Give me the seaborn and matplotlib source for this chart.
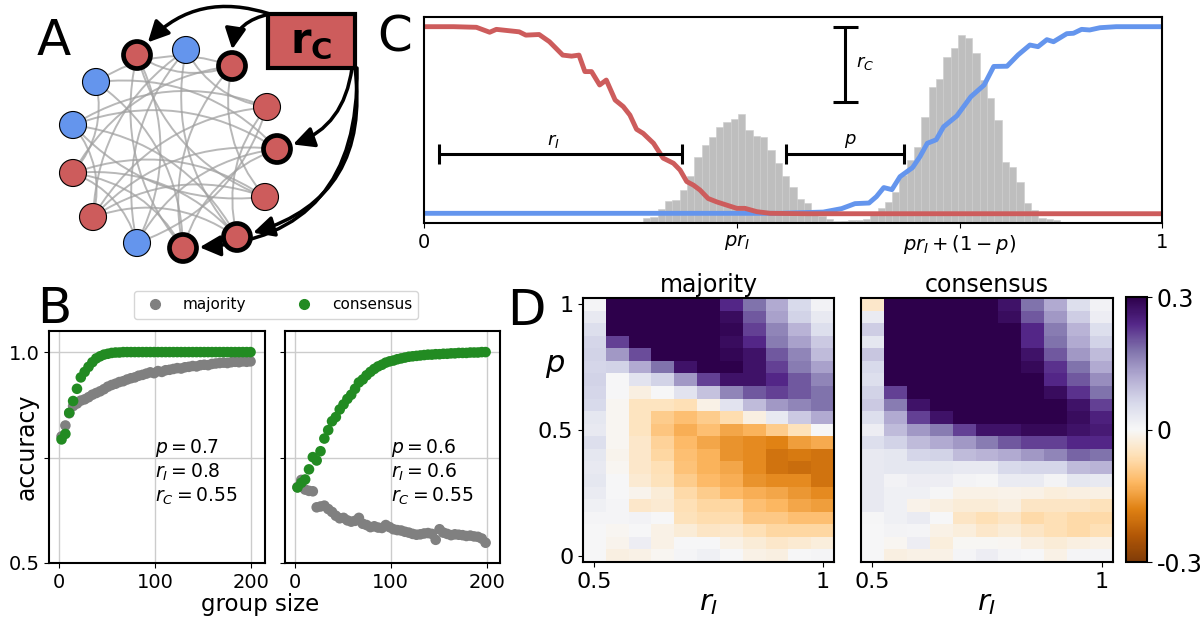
import numpy as np
import pandas as pd
import matplotlib
matplotlib.use("Agg")
import matplotlib.pyplot as plt
import seaborn as sns
from matplotlib.patches import Circle, Rectangle, FancyArrowPatch
from matplotlib.lines import Line2D

RED = "#cd5c5c"
BLUE = "#6495ed"
GREEN = "forestgreen"
GREY = "gray"

# ---------------- A: network sketch (panel pixel coords) ----------------
node_x = [137, 186, 232, 267, 277, 265, 237, 183, 137, 93, 73, 73, 96]
node_y = [55, 50, 66, 107, 149, 197, 237, 248, 243, 217, 173, 125, 82]
node_col = ["r", "b", "r", "r", "r", "r", "r", "r", "b", "r", "r", "b", "b"]
node_informed = [1, 0, 1, 0, 1, 0, 1, 1, 0, 0, 0, 0, 0]
edges = [(0, 2), (0, 5), (0, 7), (1, 3), (1, 6), (1, 9), (2, 10), (2, 7), (2, 12),
         (3, 11), (3, 9), (4, 11), (4, 9), (4, 12), (4, 8), (5, 10),
         (5, 9), (6, 9), (6, 11), (6, 10), (7, 10), (7, 12), (8, 3), (8, 0),
         (9, 11), (10, 12), (11, 5), (1, 8), (2, 5), (4, 7), (8, 10), (3, 6)]
# arrows from the r_C box: start point, target node, curvature
arrow_start = [(270, 14), (270, 14), (352, 68), (355, 68), (357, 68)]
arrow_target = [0, 2, 4, 6, 7]
arrow_rad = [0.35, 0.45, -0.35, -0.45, -0.5]

# ---------------- C: schematic ----------------
red_x = [0.0, 0.04, 0.071, 0.089, 0.098, 0.129, 0.138, 0.156, 0.170, 0.188, 0.200, 0.210,
         0.218, 0.227, 0.238, 0.247, 0.259, 0.270, 0.279, 0.288, 0.297, 0.311, 0.324, 0.338,
         0.347, 0.356, 0.365, 0.374, 0.385, 0.397, 0.410, 0.424, 0.435, 0.451, 0.469, 0.52,
         0.7, 1.0]
red_y = [0.953, 0.953, 0.950, 0.926, 0.940, 0.928, 0.912, 0.915, 0.880, 0.815, 0.810, 0.815,
         0.735, 0.735, 0.670, 0.694, 0.597, 0.565, 0.524, 0.455, 0.435, 0.387, 0.315, 0.290,
         0.257, 0.201, 0.184, 0.160, 0.119, 0.102, 0.087, 0.071, 0.071, 0.055, 0.047, 0.045,
         0.045, 0.045]
blue_x = [0.0, 0.482, 0.541, 0.566, 0.584, 0.603, 0.613, 0.623, 0.634, 0.645, 0.662, 0.672,
          0.682, 0.694, 0.704, 0.722, 0.741, 0.759, 0.772, 0.790, 0.805, 0.821, 0.832, 0.844,
          0.853, 0.871, 0.880, 0.891, 0.902, 0.916, 0.938, 1.0]
blue_y = [0.047, 0.047, 0.053, 0.070, 0.094, 0.097, 0.128, 0.172, 0.162, 0.225, 0.269, 0.322,
          0.387, 0.404, 0.467, 0.520, 0.613, 0.670, 0.760, 0.761, 0.816, 0.864, 0.856, 0.890,
          0.880, 0.919, 0.921, 0.940, 0.937, 0.948, 0.953, 0.953]
bin_w = 0.0099
hist_left_start = 0.287
hist_left = [0.006, 0.023, 0.031, 0.068, 0.107, 0.112, 0.160, 0.228, 0.322, 0.379, 0.419,
             0.468, 0.489, 0.503, 0.528, 0.451, 0.424, 0.419, 0.354, 0.290, 0.228, 0.176,
             0.117, 0.095, 0.060, 0.035, 0.020, 0.012, 0.008]
hist_right_start = 0.565
hist_right = [0.012, 0.015, 0.015, 0.020, 0.039, 0.071, 0.104, 0.152, 0.233, 0.306, 0.370,
              0.516, 0.662, 0.697, 0.807, 0.848, 0.913, 0.896, 0.824, 0.694, 0.605, 0.500,
              0.298, 0.273, 0.201, 0.099, 0.063, 0.023, 0.018, 0.015]
c_ticks = [0, 0.424, 0.726, 1]
c_ticklabels = ["0", "$pr_I$", "$pr_I + (1-p)$", "1"]

# ---------------- B: accuracy vs group size ----------------
group_size = list(range(3, 200, 4))
maj_left = [0.800, 0.826, 0.855, 0.872, 0.878, 0.885, 0.888, 0.893, 0.899, 0.903,
            0.907, 0.912, 0.918, 0.922, 0.925, 0.929, 0.931, 0.935, 0.938, 0.940,
            0.944, 0.946, 0.949, 0.952, 0.950, 0.955, 0.953, 0.957, 0.958, 0.960,
            0.962, 0.961, 0.964, 0.965, 0.967, 0.966, 0.969, 0.970, 0.969, 0.972,
            0.973, 0.974, 0.975, 0.974, 0.976, 0.977, 0.976, 0.978, 0.977, 0.978]
con_left = [0.793, 0.806, 0.856, 0.884, 0.913, 0.940, 0.953, 0.965, 0.976, 0.985,
            0.990, 0.994, 0.996, 0.998, 0.999, 0.999, 1.0, 1.0, 1.0, 1.0,
            1.0, 1.0, 1.0, 1.0, 1.0, 1.0, 1.0, 1.0, 1.0, 1.0,
            1.0, 1.0, 1.0, 1.0, 1.0, 1.0, 1.0, 1.0, 1.0, 1.0,
            1.0, 1.0, 1.0, 1.0, 1.0, 1.0, 1.0, 1.0, 1.0, 1.0]
maj_right = [0.680, 0.697, 0.674, 0.671, 0.670, 0.632, 0.634, 0.636, 0.628, 0.621,
             0.612, 0.606, 0.607, 0.601, 0.598, 0.600, 0.607, 0.593, 0.590, 0.585,
             0.587, 0.584, 0.583, 0.590, 0.585, 0.580, 0.578, 0.577, 0.574, 0.572,
             0.569, 0.567, 0.568, 0.570, 0.571, 0.569, 0.555, 0.580, 0.572, 0.569,
             0.566, 0.568, 0.567, 0.566, 0.564, 0.565, 0.563, 0.562, 0.558, 0.548]
con_right = [0.679, 0.690, 0.698, 0.722, 0.751, 0.743, 0.765, 0.795, 0.815, 0.836,
             0.846, 0.864, 0.876, 0.889, 0.899, 0.913, 0.928, 0.935, 0.945, 0.953,
             0.960, 0.966, 0.970, 0.975, 0.978, 0.980, 0.983, 0.985, 0.987, 0.989,
             0.990, 0.991, 0.992, 0.993, 0.994, 0.994, 0.995, 0.995, 0.996, 0.996,
             0.997, 0.997, 0.998, 0.998, 0.998, 0.999, 0.999, 0.999, 1.0, 1.0]
params_left = "$p = 0.7$\n$r_I = 0.8$\n$r_C = 0.55$"
params_right = "$p = 0.6$\n$r_I = 0.6$\n$r_C = 0.55$"

# ---------------- D: accuracy difference heatmaps ----------------
# rows from p = 1 (top) to p = 0 (bottom), columns r_I = 0.5 ... 1
D = 0.35
diff_majority = [
    [0.005, D, D, D, D, D, 0.24, 0.18, 0.12, 0.06, 0.01],
    [0.03, D, D, D, D, D, 0.28, 0.20, 0.13, 0.07, 0.03],
    [0.05, D, D, D, D, D, 0.29, 0.22, 0.16, 0.11, 0.05],
    [0.065, 0.22, D, D, D, D, 0.28, 0.24, 0.17, 0.13, 0.08],
    [0.07, 0.14, 0.21, D, D, D, 0.29, 0.27, 0.20, 0.16, 0.10],
    [0.065, 0.07, 0.12, 0.18, 0.27, D, D, 0.27, 0.22, 0.17, 0.13],
    [0.07, 0.0, 0.04, 0.07, 0.14, 0.22, 0.27, 0.27, 0.24, 0.20, 0.16],
    [0.065, 0.0, -0.02, 0.0, 0.04, 0.09, 0.16, 0.20, 0.22, 0.20, 0.18],
    [0.06, -0.005, -0.05, -0.05, -0.06, -0.015, 0.04, 0.10, 0.14, 0.16, 0.18],
    [0.035, -0.005, -0.05, -0.09, -0.11, -0.09, -0.065, -0.02, 0.03, 0.08, 0.12],
    [0.03, -0.005, -0.05, -0.10, -0.13, -0.11, -0.14, -0.125, -0.09, -0.055, 0.0],
    [0.05, -0.005, -0.04, -0.08, -0.115, -0.14, -0.16, -0.17, -0.18, -0.15, -0.135],
    [0.035, -0.01, -0.04, -0.075, -0.11, -0.125, -0.16, -0.17, -0.20, -0.19, -0.20],
    [0.03, -0.005, -0.04, -0.06, -0.105, -0.125, -0.14, -0.17, -0.20, -0.21, -0.20],
    [0.035, 0.0, -0.035, -0.055, -0.09, -0.115, -0.13, -0.16, -0.17, -0.17, -0.20],
    [0.025, 0.0, -0.01, -0.03, -0.07, -0.09, -0.115, -0.13, -0.14, -0.155, -0.17],
    [0.015, 0.005, -0.04, -0.035, -0.06, -0.075, -0.075, -0.11, -0.12, -0.14, -0.15],
    [0.005, 0.005, 0.01, 0.0, -0.055, -0.065, -0.065, -0.095, -0.095, -0.11, -0.11],
    [0.0, -0.005, 0.0, -0.015, -0.03, -0.045, -0.04, -0.06, -0.075, -0.075, -0.075],
    [0.0, -0.01, 0.02, -0.015, 0.0, 0.0, -0.015, -0.03, -0.04, -0.035, -0.025],
    [0.0, -0.02, -0.015, -0.005, 0.005, 0.015, 0.0, -0.015, -0.02, 0.0, 0.005],
]
diff_consensus = [
    [-0.04, D, D, D, D, D, 0.27, 0.18, 0.12, 0.05, 0.01],
    [0.025, D, D, D, D, D, 0.28, 0.20, 0.14, 0.075, 0.02],
    [0.075, D, D, D, D, D, D, 0.24, 0.17, 0.11, 0.05],
    [0.035, D, D, D, D, D, D, 0.24, 0.18, 0.12, 0.07],
    [0.085, D, D, D, D, D, D, 0.27, 0.20, 0.14, 0.10],
    [0.06, D, D, D, D, D, D, 0.285, 0.23, 0.18, 0.12],
    [0.05, D, D, D, D, D, D, D, 0.24, 0.20, 0.15],
    [0.07, 0.22, D, D, D, D, D, D, 0.28, 0.23, 0.18],
    [0.08, 0.17, 0.27, D, D, D, D, D, D, 0.27, 0.22],
    [0.05, 0.12, 0.22, 0.27, D, D, D, D, D, 0.28, 0.25],
    [0.02, 0.10, 0.14, 0.17, 0.22, 0.27, 0.27, 0.285, 0.285, 0.27, 0.26],
    [0.05, 0.07, 0.10, 0.12, 0.14, 0.17, 0.20, 0.22, 0.22, 0.24, 0.24],
    [0.03, 0.035, 0.065, 0.07, 0.10, 0.11, 0.12, 0.14, 0.16, 0.19, 0.18],
    [0.03, 0.035, 0.035, 0.035, 0.03, 0.03, 0.06, 0.065, 0.065, 0.10, 0.11],
    [0.03, 0.01, 0.02, 0.02, 0.008, 0.003, 0.025, 0.025, 0.008, 0.035, 0.03],
    [0.03, 0.015, 0.015, 0.003, -0.015, -0.015, -0.012, -0.015, -0.025, -0.02, -0.018],
    [0.03, 0.015, -0.012, -0.02, -0.03, -0.03, -0.02, -0.045, -0.045, -0.045, -0.055],
    [0.003, 0.015, 0.025, 0.0, -0.045, -0.06, -0.045, -0.07, -0.06, -0.07, -0.07],
    [0.0, 0.008, 0.005, -0.015, -0.025, -0.04, -0.03, -0.045, -0.06, -0.07, -0.06],
    [0.0, -0.005, 0.02, -0.025, -0.003, -0.003, -0.005, -0.02, -0.03, -0.02, -0.015],
    [0.0, -0.02, -0.015, -0.015, 0.005, 0.02, 0.005, 0.0, -0.015, 0.005, 0.005],
]

# ---------------- figure ----------------
W, H = 1203, 619
fig = plt.figure(figsize=(W / 100, H / 100), dpi=100)


def px_axes(left, top, right, bottom):
    return fig.add_axes([left / W, 1 - bottom / H, (right - left) / W, (bottom - top) / H])


def frame(ax, lw=1.5):
    for s in ax.spines.values():
        s.set_visible(True)
        s.set_color("black")
        s.set_linewidth(lw)


# ----- A -----
axA = px_axes(0, 0, 370, 270)
axA.set_xlim(0, 370)
axA.set_ylim(270, 0)
axA.axis("off")
for i, j in edges:
    axA.add_patch(FancyArrowPatch((node_x[i], node_y[i]), (node_x[j], node_y[j]),
                                  arrowstyle="-", connectionstyle="arc3,rad=0.25",
                                  color="#a0a0a0", lw=1.4, alpha=0.75, zorder=1))
for x, y, c, inf in zip(node_x, node_y, node_col, node_informed):
    axA.add_patch(Circle((x, y), 13.5, facecolor=RED if c == "r" else BLUE,
                         edgecolor="black", lw=3.4 if inf else 0.8, zorder=3))
axA.add_patch(Rectangle((268, 14), 87, 54, facecolor=RED, edgecolor="black", lw=3, zorder=4))
axA.text(311, 41, r"$\mathbf{r}_\mathbf{C}$", fontsize=30, ha="center", va="center", zorder=5)
for (sx, sy), t, rad in zip(arrow_start, arrow_target, arrow_rad):
    axA.add_patch(FancyArrowPatch((sx, sy), (node_x[t], node_y[t]),
                                  arrowstyle="-|>,head_length=0.7,head_width=0.35",
                                  mutation_scale=18, connectionstyle=f"arc3,rad={rad}",
                                  color="black", lw=2.5, shrinkA=0, shrinkB=12, zorder=2))

# ----- C -----
axC = px_axes(424, 17, 1162, 223)
for start, heights in [(hist_left_start, hist_left), (hist_right_start, hist_right)]:
    n_bins = len(heights)
    hist_df = pd.DataFrame({"x": start + bin_w * (np.arange(n_bins) + 0.5), "w": heights})
    sns.histplot(data=hist_df, x="x", weights="w", binwidth=bin_w,
                 binrange=(start, start + n_bins * bin_w), ax=axC, color="#bebebe",
                 alpha=1, edgecolor="#cdcdcd", linewidth=0.4)
sns.lineplot(x=blue_x, y=blue_y, ax=axC, color=BLUE, lw=3.5)
sns.lineplot(x=red_x, y=red_y, ax=axC, color=RED, lw=3.5)
axC.errorbar((0.020 + 0.350) / 2, 0.333, xerr=(0.350 - 0.020) / 2, color="black",
             lw=2.2, capsize=7, capthick=2.2)
axC.errorbar((0.490 + 0.650) / 2, 0.333, xerr=(0.650 - 0.490) / 2, color="black",
             lw=2.2, capsize=7, capthick=2.2)
axC.errorbar(0.570, (0.950 + 0.586) / 2, yerr=(0.950 - 0.586) / 2, color="black",
             lw=2.2, capsize=9, capthick=2.2)
axC.text(0.175, 0.40, "$r_I$", fontsize=13, ha="center", va="center")
axC.text(0.577, 0.40, "$p$", fontsize=13, ha="center", va="center")
axC.text(0.586, 0.775, "$r_C$", fontsize=13, ha="left", va="center")
axC.set_xlim(0, 1)
axC.set_ylim(0, 1)
axC.set_xticks(c_ticks)
axC.set_xticklabels(c_ticklabels, fontsize=14)
axC.set_yticks([])
axC.set_xlabel("")
axC.set_ylabel("")
frame(axC)

# ----- B -----
axB1 = px_axes(49, 331, 265, 563)
axB2 = px_axes(285, 331, 500, 563)
for ax, maj, con, txt in [(axB1, maj_left, con_left, params_left),
                          (axB2, maj_right, con_right, params_right)]:
    df = pd.DataFrame({"size": group_size * 2, "accuracy": maj + con,
                       "rule": ["majority"] * len(maj) + ["consensus"] * len(con)})
    sns.scatterplot(data=df, x="size", y="accuracy", hue="rule",
                    palette={"majority": GREY, "consensus": GREEN},
                    s=58, linewidth=0, legend=False, ax=ax, zorder=3)
    ax.set_xlim(-10, 214)
    ax.set_ylim(0.5, 1.05)
    ax.set_xticks([0, 100, 200])
    ax.set_yticks([0.5, 0.75, 1.0])
    ax.grid(True, color="#cccccc", lw=1)
    ax.set_axisbelow(True)
    ax.tick_params(labelsize=14)
    ax.set_xlabel("")
    ax.set_ylabel("")
    ax.text(100, 0.716, txt, fontsize=13.5, ha="left", va="center", linespacing=1.15)
    frame(ax)
axB1.set_yticklabels(["0.5", "", "1.0"])
axB2.set_yticklabels([])
fig.text(27 / W, 1 - 447 / H, "accuracy", rotation=90, fontsize=17, ha="center", va="center")
fig.text(260 / W, 1 - 611 / H, "group size", fontsize=16.5, ha="center", va="baseline")
handles = [Line2D([], [], marker="o", ls="", color=GREY, markersize=7),
           Line2D([], [], marker="o", ls="", color=GREEN, markersize=7)]
fig.legend(handles, ["majority", "consensus"], loc="center", bbox_to_anchor=(276 / W, 1 - 305 / H),
           ncol=2, fontsize=11, columnspacing=2.8, handletextpad=0.8)

# ----- D -----
axD1 = px_axes(583, 298, 834, 562)
axD2 = px_axes(861, 298, 1113, 562)
cax = px_axes(1126, 297, 1147, 562)
sns.heatmap(np.array(diff_majority), ax=axD1, cmap="PuOr", vmin=-0.3, vmax=0.3, cbar=False,
            xticklabels=False, yticklabels=False)
sns.heatmap(np.array(diff_consensus), ax=axD2, cmap="PuOr", vmin=-0.3, vmax=0.3, cbar=True,
            cbar_ax=cax, cbar_kws={"ticks": [-0.3, 0, 0.3]},
            xticklabels=False, yticklabels=False)
for ax, title in [(axD1, "majority"), (axD2, "consensus")]:
    ax.set_xticks([0.5, 10.5])
    ax.set_xticklabels(["0.5", "1"], fontsize=16)
    ax.set_title(title, fontsize=17, pad=4)
    ax.set_xlabel("$r_I$", fontsize=21, labelpad=-2)
    frame(ax)
axD1.set_yticks([0.5, 10.5, 20.5])
axD1.set_yticklabels(["1", "0.5", "0"], fontsize=16, rotation=0)
axD1.text(-0.11, 0.745, "$p$", transform=axD1.transAxes, fontsize=22, ha="center", va="center")
axD2.set_yticks([])
cb = axD2.collections[0].colorbar
cb.set_ticklabels(["-0.3", "0", "0.3"])
cb.ax.tick_params(labelsize=17)
cb.outline.set_visible(True)
cb.outline.set_linewidth(1.5)
cb.outline.set_edgecolor("black")

# panel letters
for letter, x, y in [("A", 37, 55), ("B", 37, 323), ("C", 377, 52), ("D", 507, 325)]:
    fig.text(x / W, 1 - y / H, letter, fontsize=36, ha="left", va="baseline")

fig.savefig("out.png", dpi=100)
